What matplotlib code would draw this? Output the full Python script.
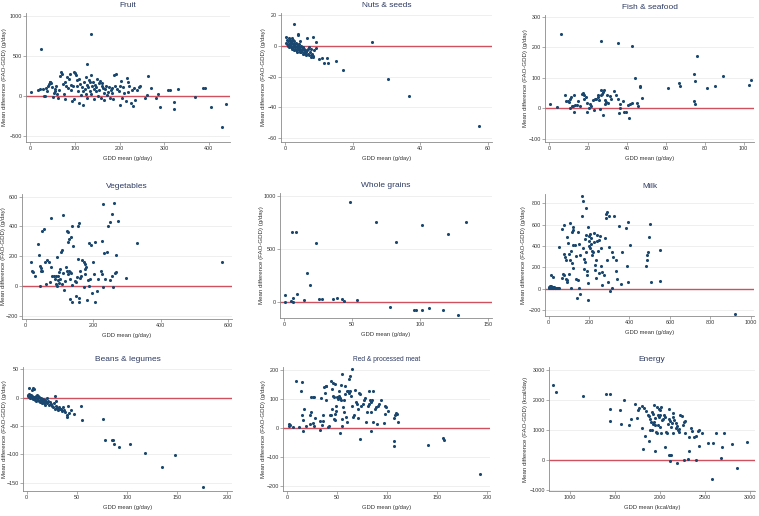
import numpy as np
import matplotlib
matplotlib.use("Agg")
import matplotlib.pyplot as plt

plt.rcParams["font.family"] = ["Liberation Sans", "DejaVu Sans"]

# Bland-Altman style panels: GDD mean (x) vs mean difference FAO-GDD (y)
fruit = [
    (1, 50), (18, 75), (22, 90), (28, 85), (30, 5), (33, 5), (35, 100), (38, 60), (40, 130),
    (42, 150), (44, 170), (45, 180), (47, 160), (48, 110), (50, -10), (52, 40), (54, 90),
    (55, 60), (58, 130), (60, 20), (62, -20), (64, 80), (66, 250), (68, 300), (70, 270),
    (72, 150), (75, 20), (77, 170), (78, -40), (80, 120), (82, 240), (85, 100), (86, 210),
    (88, 280), (90, 140), (92, 70), (94, -60), (95, 130), (97, -40), (98, 300), (100, 290),
    (102, 260), (104, 200), (105, 130), (106, 60), (108, -80), (110, 210), (112, 150),
    (114, 10), (115, 110), (117, -110), (118, 60), (120, 170), (122, 90), (124, 240),
    (125, 30), (126, 140), (128, -20), (130, 110), (131, 200), (133, 60), (134, 170),
    (135, 260), (137, 20), (138, 120), (140, 180), (142, 90), (143, -40), (145, 140),
    (147, 60), (148, 110), (150, 210), (151, 0), (153, 160), (155, 70), (156, 190),
    (158, -30), (160, 130), (161, 160), (163, 100), (165, -50), (166, 40), (168, 90),
    (170, 130), (172, 10), (174, 50), (176, 110), (178, -30), (180, 70), (182, 100),
    (184, 40), (186, -40), (188, 260), (190, 120), (192, 275), (195, 90), (198, 60),
    (200, 120), (202, -110), (204, 190), (206, -30), (208, 110), (210, 40), (214, -60),
    (216, 220), (218, 180), (219, 45), (222, 120), (225, -90), (228, 80), (230, -125),
    (233, 100), (235, -50), (240, 70), (244, 110), (246, 125), (258, -30), (262, 10),
    (265, 245), (270, 100), (282, -30), (287, 30), (291, -130), (308, 75), (313, 75),
    (322, -155), (323, -75), (331, 90), (369, -12), (387, 105), (391, 105), (405, -140),
    (429, -380), (440, -100), (23, 583), (136, 767), (128, 396),
]

nuts = [
    (0.2, 2), (0.3, 6), (0.5, 1), (0.6, 4), (0.8, 0), (0.9, 3), (1.0, 5), (1.1, 1), (1.2, -1),
    (1.3, 2), (1.4, 4), (1.5, 0), (1.6, 3), (1.7, -1), (1.8, 1), (1.9, 5), (2.0, -2), (2.1, 2),
    (2.2, 0), (2.3, 4), (2.4, -1), (2.5, 14), (2.5, 1), (2.6, -3), (2.7, 3), (2.8, -1),
    (2.9, 0), (3.0, -2), (3.1, 2), (3.2, -3), (3.3, 1), (3.4, -1), (3.5, -4), (3.6, 0),
    (3.7, -2), (3.8, 7.5), (3.8, 6.8), (3.9, -3), (4.0, 1), (4.1, -1), (4.2, -4), (4.3, 3),
    (4.4, -2), (4.5, -3), (4.6, 0), (4.7, -4), (4.8, -2), (5.0, -3), (5.1, -5), (5.2, -1),
    (5.4, -4), (5.5, -2), (5.7, -5), (5.8, -3), (6.0, -4), (6.2, -6), (6.3, 5.2), (6.4, -3),
    (6.6, -5), (6.8, -2), (7.0, -1), (7.1, -6), (7.3, -4), (7.5, -7), (7.6, -2), (7.8, -5),
    (8.0, -6), (8.2, -7), (8.3, 5.5), (8.3, -6.5), (8.5, -3), (9.0, -1.3), (9.1, 2.6),
    (10.1, -8.7), (10.9, -7.8), (11.4, -11.3), (12.4, -8), (12.6, -11.3), (14.9, -10),
    (17.2, -15.9), (25.6, 2.8), (30.3, -21.6), (36.8, -32.7), (57.4, -52.3),
]

fish = [
    (0.7, 13), (4.3, 4), (6, 242), (8.2, 45), (9, 24), (9.6, 24), (10.3, 20), (10.6, 31),
    (11, 2), (11.5, 36), (12, 9), (12.6, 9), (12.8, 45), (13, -11), (13.5, 10), (14.2, 11),
    (15, 24), (16, 7), (16.8, 46), (17.3, 50), (17.8, 30), (18.2, 42), (19, 37), (19.5, 19),
    (19.5, -11), (20.5, 1), (21, 15), (21.4, 9), (22.6, 26), (23, -7), (23.6, 30), (24.3, 30),
    (25, 44), (25.3, 37), (25.9, 26), (26.2, -1), (26.5, 220), (26.7, 45), (26.9, 59),
    (27.4, 48), (27.6, -21), (27.9, 54), (28.3, 61), (28.6, 26), (28.8, 13), (29.1, 21),
    (29.6, 45), (30.5, 19), (31.3, 39), (32, 32), (33.4, 56), (34.6, 45), (35.3, 214),
    (35.6, 31), (36, -15), (36.3, 15), (36.6, 0), (38, 23), (38.7, -13), (39.7, -13),
    (40.4, 10), (41, -31), (41.6, 15), (42.6, 17), (42.8, 205), (44.2, 98), (45.2, 17),
    (46, 7), (46.6, 72), (46.7, 69), (47.8, 35), (61.3, 68), (66.8, 84), (67.1, 72),
    (74.5, 23), (75, 15), (74.7, 111), (74.8, 88), (76.2, 170), (81.3, 66), (85.3, 72),
    (89.4, 107), (102.5, 75), (103.8, 92),
]

vegetables = [
    (17, 163), (18, 100), (23, 96), (28, 69), (35, 281), (40, 210), (43, 132), (45, 118),
    (42, 0), (46, 100), (48, 100), (47, 369), (55, 384), (57, 163), (61, 13), (64, 176),
    (68, 163), (71, 25), (76, 456), (76, 127), (79, 65), (84, 69), (91, 69), (92, 197),
    (93, 2), (96, 65), (98, 92), (101, 114), (102, 47), (104, 228), (107, 241), (106, 13),
    (109, 474), (111, 89), (113, -25), (115, 33), (118, 130), (121, 103), (121, 371),
    (126, 364), (124, 293), (128, 315), (126, 80), (129, 103), (132, 96), (135, 85),
    (130, -85), (134, 326), (136, 9), (137, -105), (138, 400), (140, 268), (146, 36),
    (149, -69), (154, 404), (157, 422), (157, -105), (155, 181), (158, -78), (160, 51),
    (165, 69), (168, 176), (173, 159), (175, 147), (178, 130), (172, -5), (176, 114),
    (183, -94), (186, 291), (188, 2), (190, 47), (193, 275), (195, -47), (199, 159),
    (202, 80), (204, 297), (205, -105), (211, -31), (213, 47), (223, 103), (225, 80),
    (227, 304), (228, -9), (230, 550), (232, 219), (234, 47), (240, 226), (243, 404),
    (251, 431), (251, 42), (255, 483), (257, 69), (259, -4), (262, 556), (264, 87),
    (268, 92), (267, 208), (273, 436), (296, 54), (329, 286), (581, 163),
    (86, 45), (91, 15), (97, 40), (100, 20), (131, 45), (150, 25), (152, 60), (160, 100),
    (177, 80), (185, 40),
]

whole_grains = [
    (0.7, 0), (0.7, 63), (4.7, 6), (5.6, 654), (6.1, 38), (6.1, 0), (8.8, 660), (9.6, 69),
    (14.5, 16), (16.4, 274), (19.1, 160), (23.3, 550), (25.7, 28), (27.9, 28), (35.5, 22),
    (38.5, 35), (42.4, 22), (43.6, 6), (48.5, 943), (53.4, 16), (67.2, 748), (77.7, -50),
    (82.6, 566), (95.3, -75), (97, -82), (101.5, -82), (101.7, 726), (106.6, -63),
    (116.9, -75), (120.3, 635), (127.7, -129), (134.1, 748),
]

milk = [
    (2, 15), (5, 20), (8, 22), (10, 18), (12, 25), (15, 12), (18, 20), (20, 15), (24, 10),
    (28, 18), (32, 12), (36, 8), (40, 5), (45, 8), (50, 5), (6, 5), (14, 3), (22, 8),
    (10, 125), (20, 115), (4, 10), (30, 3),
    (51, 389), (64, 100), (69, 140), (78, 128), (68, 561), (76, 598), (78, 324), (79, 296),
    (86, 271), (84, 93), (89, 78), (92, 65), (92, 489), (97, 427), (101, 327), (101, 140),
    (106, 614), (106, 265), (109, 358), (112, 3), (114, 243), (115, 533), (120, 555),
    (119, 576), (122, 199), (122, 414), (129, 414), (134, 305), (137, 87), (144, 78),
    (139, -87), (145, 530), (152, 417), (155, -47), (152, 3), (157, 318), (163, 685),
    (167, 866), (172, 825), (170, 383), (173, 280), (175, 181), (178, 255), (180, 467),
    (185, 508), (183, 349), (186, 757), (188, 171), (191, 125), (193, -109), (195, 583),
    (195, 53), (198, 445), (201, 498), (205, 511), (210, 480), (200, 405), (206, 383),
    (213, 358), (219, 343), (216, 312), (223, 520), (228, 224), (233, 103), (236, 271),
    (241, 445), (244, 352), (249, 458), (254, 492), (257, 218), (262, 156), (266, 31),
    (282, 664), (285, 701), (290, 717), (299, 685), (290, 274), (295, 62), (304, -22),
    (312, 6), (315, 343), (323, 679), (332, 265), (335, 171), (340, 87), (348, 592),
    (356, 47), (365, 349), (384, 567), (393, 623), (401, 411), (394, 62), (389, 218),
    (482, 209), (485, 274), (488, 312), (492, 343), (498, 483), (503, 607), (551, 368),
    (508, 62), (550, 72), (922, -234),
    (210, 420), (230, 180), (250, 150), (260, 380), (275, 130), (280, 480), (300, 390),
    (320, 300), (240, 500), (225, 440),
]

beans = [
    (1, 5), (1.5, 3), (2, 6), (2.3, 17), (2.5, 2), (3, 4), (3.5, 0), (4, 5), (4.5, 2), (5, -1),
    (5.3, 13), (5.5, 3), (6, 1), (6.3, 17), (6.5, -2), (7, 15), (7.5, 2), (8, -4), (8.5, 0),
    (9, -6), (9.5, 3), (10, -3), (10.5, 5), (11, -1), (11.5, 4), (12, -5), (12.5, 1), (13, -7),
    (13.5, -3), (14, 0), (14.5, -8), (15, -4), (15.5, -10), (16, -2), (16.5, -6), (17, -9),
    (18, -4), (18.5, -12), (19, -7), (20, 0), (20.5, -10), (21, -5), (22, -13), (23, -8),
    (24, -11), (25, -15), (26, -17), (27, -10), (27.8, 3), (28, -20), (29, -14), (29.5, -6),
    (30, -18), (31, -22), (32, -16), (33, -20), (34, -19), (35, -23), (36, -17), (37, -21),
    (38.7, -25), (40, -34), (40.7, -31), (41.7, -14), (42, -27), (44, -22), (47.4, -28),
    (54, -15), (55.6, -40), (76.2, -38), (78.5, -74), (84.8, -74), (86.4, -75), (87.4, -82),
    (92, -87), (103.3, -81), (117.9, -97), (134.8, -122), (147.7, -101), (175.8, -158),
]

red_meat = [
    (1.3, 14), (1.7, 8), (2.7, 10), (5.7, 2), (9, 162), (12, 2), (13.7, 129), (14.7, 158),
    (15, 43), (15.3, 28), (15.7, -9), (16.7, 65), (19, 8), (22.3, 46), (23, 14), (23.3, 54),
    (24, 106), (25.7, 106), (27, 105), (25.7, 16), (26.3, 6), (27.3, 35), (32.3, 25),
    (33, -7), (34, 102), (34.3, 10), (35.3, 23), (36, 46), (36.3, 141), (38.3, 145),
    (39, 143), (38, 120), (38.7, 95), (40.7, 5), (42, 7), (43, 43), (43.7, 46), (44, 162),
    (45.3, 156), (47.3, 153), (44.3, 66), (45, 135), (45.7, 110), (46.7, 106), (46.3, 31),
    (47.3, 28), (48, 49), (48.7, 60), (49, 76), (50, 106), (50.7, 101), (51.7, 110),
    (52.7, 104), (53.3, 97), (51.3, 129), (54, 147), (54.7, 187), (54.3, 31), (55, 8),
    (55.7, 72), (56.3, 54), (57, 95), (57.3, 143), (58, 116), (59, 37), (59.7, 22), (60, 129),
    (60.7, 126), (61.7, 120), (62.3, 127), (61.3, 170), (62.3, 179), (63.7, 110), (64.7, 203),
    (65, 77), (66.3, 37), (67.3, 43), (68.3, 132), (69, 89), (70, 83), (70.7, 66), (71.7, 120),
    (73, 118), (71, 34), (74, 77), (75.7, 83), (76.7, 95), (78.3, 104), (79, 22), (79.7, 55),
    (80.7, 77), (81.7, 83), (82.3, 126), (83, 95), (84, 91), (85, 97), (84, 54), (86.3, 129),
    (86.3, 22), (87.7, 65), (89, 72), (89.7, 12), (91.3, 75), (92.3, 83), (93.7, 95),
    (96.7, 16), (98, 49), (98.3, 74), (99.3, 72), (100.7, 60), (107, 35), (108, 44),
    (109, 52), (110, 49), (111.3, 20), (53, -18), (84, -12), (73.3, -38), (107.3, -46),
    (107, -61), (141.3, -59), (156.3, -36), (156.7, -40), (192.7, -160),
]

energy = [
    (812, 2506), (853, 2258), (1144, 2135), (1405, 2213), (1446, 2202), (1449, 1719),
    (1453, 1292), (1560, 1685), (1567, 1213), (1608, 1989), (1656, 1157), (1681, 1371),
    (1725, 1876), (1744, 1416), (1755, 1685), (1773, 1742), (1803, 1809), (1807, 1056),
    (1818, 371), (1829, 1730), (1847, 1652), (1840, 809), (1866, 1517), (1884, 1472),
    (1895, 1371), (1902, 1258), (1877, 618), (1891, 989), (1910, 1000), (1913, 1596),
    (1925, 1551), (1921, 1202), (1932, 1258), (1947, 1180), (1932, 1854), (1943, 292),
    (1958, 921), (1969, 888), (1972, 1764), (1987, 1708), (2002, 1674), (1976, 1506),
    (1994, 1449), (1983, 1180), (2002, 1112), (2017, 888), (2017, 1787), (2024, 1337),
    (2039, 1360), (2050, 1517), (2061, 438), (2068, 944), (2079, 888), (2098, 157),
    (2109, 157), (2120, 157), (2105, 1360), (2116, 1315), (2131, 1225), (2105, 1697),
    (2112, -34), (2123, 1090), (2142, 888), (2149, 1584), (2160, 1337), (2179, 1247),
    (2175, 1067), (2186, -90), (2193, 1146), (2208, 1034), (2215, 921), (2226, 1517),
    (2241, 1483), (2252, 1180), (2267, 1281), (2274, 1315), (2271, 11), (2282, 888),
    (2308, 22), (2319, 303), (2326, 775), (2348, 1067), (2359, 955), (2381, 753),
    (2400, 809), (2400, 11), (2418, 955), (2429, 1000), (2436, 472), (2466, 910),
    (2532, 573), (2584, 551), (2580, -629), (2624, 910), (2687, 416), (2680, 45),
    (2713, 888), (2797, 528), (2853, -258), (2971, 584),
    (1950, 1400), (2000, 1500), (2060, 1420), (2090, 1200), (2150, 1450), (2200, 1000),
]

titles = ["Fruit", "Nuts & seeds", "Fish & seafood", "Vegetables", "Whole grains",
          "Milk", "Beans & legumes", "Red & processed meat", "Energy"]
title_size = [6.0, 6.0, 6.0, 6.0, 6.0, 6.0, 6.0, 4.8, 6.0]
datasets = [fruit, nuts, fish, vegetables, whole_grains, milk, beans, red_meat, energy]
xticks = [[0, 100, 200, 300, 400], [0, 20, 40, 60], [0, 20, 40, 60, 80, 100],
          [0, 200, 400, 600], [0, 50, 100, 150], [0, 200, 400, 600, 800, 1000],
          [0, 50, 100, 150, 200], [0, 50, 100, 150, 200], [1000, 1500, 2000, 2500, 3000]]
yticks = [[-500, 0, 500, 1000], [-60, -40, -20, 0, 20], [-100, 0, 100, 200, 300],
          [-200, 0, 200, 400, 600], [0, 500, 1000], [-200, 0, 200, 400, 600, 800],
          [-150, -100, -50, 0, 50], [-200, -100, 0, 100, 200],
          [-1000, 0, 1000, 2000, 3000]]
xlims = [(-10, 448), (-1.3, 61.3), (-2, 105.3), (-11, 611), (-3.2, 153), (-18, 1016),
         (-3.6, 204.6), (-4.3, 203), (772, 3055)]
ylims = [(-571, 1033), (-62.6, 21.4), (-110, 305), (-221, 617), (-154, 1025), (-255, 888),
         (-164.5, 54.4), (-217, 210), (-1045, 3112)]

# axes boxes in pixels: left, top, right, bottom
boxes = [(26, 13, 230, 142), (281, 13, 492, 142), (545, 15, 754, 142),
         (22, 194, 232, 319), (280, 193, 492, 318), (545, 194, 754, 316),
         (23, 367, 232, 491), (283, 367, 490, 491), (549, 367, 755, 491)]
# distance (px) from the y axis to the right edge of the rotated y label
ylab_off = [18.5, 15.5, 16.5, 15.5, 16, 19.5, 16.5, 17, 21]

W, H = 759, 516
fig = plt.figure(figsize=(W / 100, H / 100), dpi=100)
dot = "#1a476f"
red = "#d0505e"
grey = "#8a8a8a"

for i in range(9):
    l, t, r, b = boxes[i]
    ax = fig.add_axes([l / W, 1 - b / H, (r - l) / W, (b - t) / H])
    pts = np.array(datasets[i], dtype=float)
    ax.axhline(0, color=red, lw=1.0, zorder=2)
    ax.scatter(pts[:, 0], pts[:, 1], s=5, color=dot, lw=0, zorder=3)
    ax.set_xticks(xticks[i])
    ax.set_yticks(yticks[i])
    ax.set_xlim(*xlims[i])
    ax.set_ylim(*ylims[i])
    ax.grid(axis="y", color="#ececec", lw=0.6, zorder=0)
    ax.set_axisbelow(True)
    for s in ["top", "right"]:
        ax.spines[s].set_visible(False)
    for s in ["left", "bottom"]:
        ax.spines[s].set_color(grey)
        ax.spines[s].set_linewidth(0.6)
    ax.tick_params(length=2, width=0.5, color=grey, labelsize=3.9, labelcolor="#333333", pad=1)
    unit = "kcal/day" if i == 8 else "g/day"
    ax.set_title(titles[i], fontsize=title_size[i], color="#2e3b63", pad=4)
    ax.set_xlabel("GDD mean (%s)" % unit, fontsize=4.2, color="#333333")
    ax.set_ylabel("Mean difference (FAO-GDD) (%s)" % unit, fontsize=4.4, color="#333333")
    ax.xaxis.set_label_coords(0.5, -14 / (b - t))
    ax.yaxis.set_label_coords(-ylab_off[i] / (r - l), 0.5)

fig.savefig("out.png", dpi=100)
